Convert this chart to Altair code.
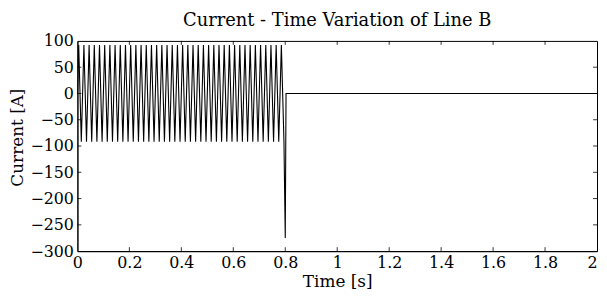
import altair as alt
import pandas as pd

# Turning points of the current trace (50 Hz, 0 - 0.8 s), then fault spike and zero
times = [0.0,
         0.005, 0.015, 0.025, 0.035, 0.045, 0.055, 0.065, 0.075, 0.085, 0.095,
         0.105, 0.115, 0.125, 0.135, 0.145, 0.155, 0.165, 0.175, 0.185, 0.195,
         0.205, 0.215, 0.225, 0.235, 0.245, 0.255, 0.265, 0.275, 0.285, 0.295,
         0.305, 0.315, 0.325, 0.335, 0.345, 0.355, 0.365, 0.375, 0.385, 0.395,
         0.405, 0.415, 0.425, 0.435, 0.445, 0.455, 0.465, 0.475, 0.485, 0.495,
         0.505, 0.515, 0.525, 0.535, 0.545, 0.555, 0.565, 0.575, 0.585, 0.595,
         0.605, 0.615, 0.625, 0.635, 0.645, 0.655, 0.665, 0.675, 0.685, 0.695,
         0.705, 0.715, 0.725, 0.735, 0.745, 0.755, 0.765, 0.775, 0.785, 0.795,
         0.8, 0.803, 2.0]
currents = [0,
            92, -92, 92, -92, 92, -92, 92, -92, 92, -92,
            92, -92, 92, -92, 92, -92, 92, -92, 92, -92,
            92, -92, 92, -92, 92, -92, 92, -92, 92, -92,
            92, -92, 92, -92, 92, -92, 92, -92, 92, -92,
            92, -92, 92, -92, 92, -92, 92, -92, 92, -92,
            92, -92, 92, -92, 92, -92, 92, -92, 92, -92,
            92, -92, 92, -92, 92, -92, 92, -92, 92, -92,
            92, -92, 92, -92, 92, -92, 92, -92, 92, -92,
            -275, 0, 0]

x_ticks = [0, 0.2, 0.4, 0.6, 0.8, 1, 1.2, 1.4, 1.6, 1.8, 2]
y_ticks = [-300, -250, -200, -150, -100, -50, 0, 50, 100]

W, H = 524, 212
FONT = "DejaVu Serif"

df = pd.DataFrame({"t": times, "i": currents, "k": list(range(len(times)))})
xt = pd.DataFrame({"t": x_ticks[1:-1]})
yt = pd.DataFrame({"i": y_ticks[1:-1]})

xscale = alt.Scale(domain=[0, 2], nice=False, zero=False)
yscale = alt.Scale(domain=[-300, 100], nice=False, zero=False)

xaxis = alt.Axis(values=x_ticks, format="~g", ticks=False, grid=False,
                 labelFont=FONT, titleFont=FONT, labelFontSize=16, titleFontSize=17,
                 labelAlign={"condition": {"test": "datum.value >= 2", "value": "right"},
                             "value": "center"},
                 labelPadding=3, titlePadding=4, labelOverlap=False)
yaxis = alt.Axis(values=y_ticks, ticks=False, grid=False,
                 labelFont=FONT, titleFont=FONT, labelFontSize=16, titleFontSize=17,
                 labelPadding=4, titleX=-51, titleY=97, labelOverlap=False)

X = alt.X("t:Q", scale=xscale, title="Time [s]", axis=xaxis)
Y = alt.Y("i:Q", scale=yscale, title="Current [A]", axis=yaxis)

line = alt.Chart(df).mark_line(color="black", strokeWidth=1.1, clip=True).encode(
    x=X, y=Y, order="k:Q")

tick_len = 4
bottom = alt.Chart(xt).mark_rule(color="black", strokeWidth=0.8).encode(
    x=X, y=alt.value(H), y2=alt.value(H - tick_len))
top = alt.Chart(xt).mark_rule(color="black", strokeWidth=0.8).encode(
    x=X, y=alt.value(0), y2=alt.value(tick_len))
left = alt.Chart(yt).mark_rule(color="black", strokeWidth=0.8).encode(
    y=Y, x=alt.value(0), x2=alt.value(tick_len))
right = alt.Chart(yt).mark_rule(color="black", strokeWidth=0.8).encode(
    y=Y, x=alt.value(W), x2=alt.value(W - tick_len))

chart = alt.layer(line, bottom, top, left, right).properties(
    width=W, height=H,
    title=alt.Title("Current - Time Variation of Line B", font=FONT, fontSize=18,
                    fontWeight="normal", color="black", offset=3, frame="group"),
    padding={"left": 1, "top": 3, "right": 1, "bottom": 0},
).configure(background="white", font=FONT).configure_view(
    stroke="black", strokeWidth=1
).configure_axis(
    labelColor="black", titleColor="black", titleFontWeight="normal",
    domainColor="black", domainWidth=1,
)

chart.save("out.html", embed_options={"renderer": "svg", "actions": False})
